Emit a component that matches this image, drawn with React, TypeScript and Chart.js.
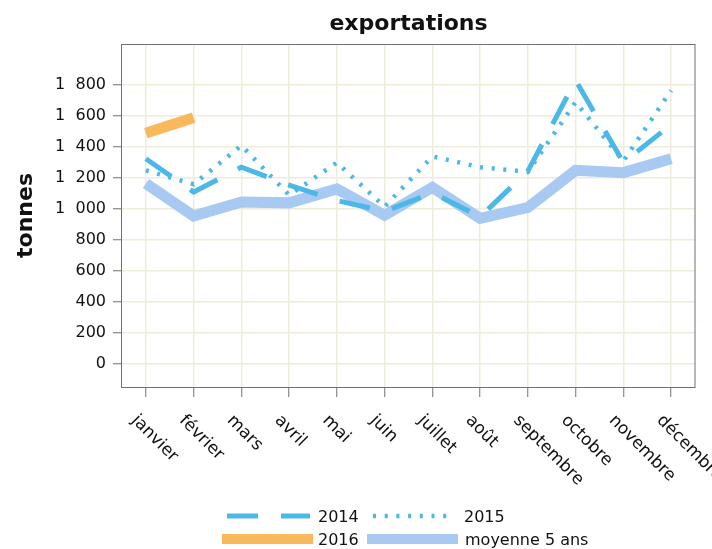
import { useEffect, useRef } from 'react';
import { Chart, registerables } from 'chart.js';

Chart.register(...registerables);

const months = ['janvier', 'février', 'mars', 'avril', 'mai', 'juin', 'juillet', 'août', 'septembre', 'octobre', 'novembre', 'décembre'];
const serie2014 = [1325, 1110, 1270, 1155, 1055, 985, 1105, 950, 1245, 1830, 1300, 1545];
const serie2015 = [1250, 1160, 1410, 1090, 1300, 1015, 1340, 1270, 1240, 1690, 1310, 1765];
const serie2016 = [1490, 1590, null, null, null, null, null, null, null, null, null, null];
const moyenne5ans = [1165, 955, 1045, 1040, 1130, 960, 1140, 940, 1010, 1250, 1235, 1325];
const yTickValues = [0, 200, 400, 600, 800, 1000, 1200, 1400, 1600, 1800];
const seriesLabels = ['2014', '2015', '2016', 'moyenne 5 ans'];
const chartTitle = 'exportations';
const yTitle = 'tonnes';

const BLUE = '#4cb8e8';
const ORANGE = '#f9b85c';
const LIGHT = '#a8c9f2';
const GRID = '#efedda';
const FONT = '"DejaVu Sans", sans-serif';

const fmt = (v: number) => String(v).replace(/\B(?=(\d{3})+(?!\d))/g, '\u2007');

const drawPlugin = {
  id: 'customDraw',
  afterDraw(chart: any) {
    const { ctx, chartArea } = chart;
    const { left, right, top, bottom } = chartArea;
    ctx.save();
    // plot border
    ctx.strokeStyle = '#707070';
    ctx.lineWidth = 1;
    ctx.setLineDash([]);
    ctx.strokeRect(Math.round(left) - 0.5, Math.round(top) + 0.5, Math.round(right - left) + 0.5, Math.round(bottom - top));
    ctx.fillStyle = '#111';
    // title
    ctx.font = `bold 22px ${FONT}`;
    ctx.textAlign = 'center';
    ctx.textBaseline = 'alphabetic';
    ctx.fillText(chartTitle, (left + right) / 2, 30);
    // y title
    ctx.save();
    ctx.translate(32, (top + bottom) / 2);
    ctx.rotate(-Math.PI / 2);
    ctx.font = `bold 22px ${FONT}`;
    ctx.fillText(yTitle, 0, 0);
    ctx.restore();
    // x labels
    const xs = chart.scales.x;
    ctx.font = `17px ${FONT}`;
    ctx.textAlign = 'left';
    months.forEach((m, i) => {
      const x = xs.getPixelForValue(i);
      ctx.save();
      ctx.translate(x - 15, 421);
      ctx.rotate(Math.PI / 4);
      ctx.fillText(m, 0, 0);
      ctx.restore();
    });
    // legend
    const items = [
      { x0: 227, x1: 310, y: 516, tx: 318, color: BLUE, w: 5, dash: [31, 23], label: seriesLabels[0] },
      { x0: 373, x1: 450, y: 516, tx: 464, color: BLUE, w: 4.5, dash: [3, 8.7], label: seriesLabels[1] },
      { x0: 222, x1: 313, y: 539, tx: 318, color: ORANGE, w: 10, dash: [], label: seriesLabels[2] },
      { x0: 367, x1: 458, y: 539, tx: 465, color: LIGHT, w: 10, dash: [], label: seriesLabels[3] },
    ];
    items.forEach((it) => {
      ctx.beginPath();
      ctx.strokeStyle = it.color;
      ctx.lineWidth = it.w;
      ctx.lineCap = 'butt';
      ctx.setLineDash(it.dash);
      ctx.moveTo(it.x0, it.y);
      ctx.lineTo(it.x1, it.y);
      ctx.stroke();
      ctx.setLineDash([]);
      ctx.fillStyle = '#111';
      ctx.font = `16px ${FONT}`;
      ctx.textAlign = 'left';
      ctx.textBaseline = 'alphabetic';
      ctx.fillText(it.label, it.tx, it.y + 6);
    });
    ctx.restore();
  },
};

export default function App() {
  const ref = useRef<HTMLCanvasElement>(null);
  useEffect(() => {
    document.body.style.margin = '0';
    const canvas = ref.current;
    if (!canvas) return;
    const chart = new Chart(canvas, {
      type: 'line',
      data: {
        labels: months,
        datasets: [
          { label: seriesLabels[0], data: serie2014, borderColor: BLUE, borderWidth: 5, borderDash: [31, 23], pointRadius: 0, tension: 0, borderCapStyle: 'butt', fill: false },
          { label: seriesLabels[1], data: serie2015, borderColor: BLUE, borderWidth: 4.5, borderDash: [3, 8.7], pointRadius: 0, tension: 0, borderCapStyle: 'butt', fill: false },
          { label: seriesLabels[2], data: serie2016, borderColor: ORANGE, borderWidth: 11, pointRadius: 0, tension: 0, borderCapStyle: 'butt', fill: false },
          { label: seriesLabels[3], data: moyenne5ans, borderColor: LIGHT, borderWidth: 11, pointRadius: 0, tension: 0, borderCapStyle: 'butt', borderJoinStyle: 'miter', fill: false },
        ],
      },
      options: {
        responsive: false,
        animation: false,
        devicePixelRatio: 1,
        layout: { padding: { top: 44, right: 17, left: 0, bottom: 0 } },
        plugins: { legend: { display: false }, title: { display: false }, tooltip: { enabled: false } },
        scales: {
          x: {
            type: 'category',
            offset: true,
            border: { display: false },
            grid: { color: GRID, lineWidth: 1.5, tickColor: '#707070', tickLength: 10, drawTicks: true, tickWidth: 1 },
            ticks: { display: false },
            afterFit: (s: any) => { s.height = 162; },
          },
          y: {
            type: 'linear',
            min: -148,
            max: 2065,
            border: { display: false },
            grid: { color: GRID, lineWidth: 1.5, tickColor: '#707070', tickLength: 9, drawTicks: true, tickWidth: 1 },
            afterBuildTicks: (s: any) => { s.ticks = yTickValues.map((v) => ({ value: v })); },
            afterFit: (s: any) => { s.width = 122; },
            ticks: {
              color: '#111',
              font: { family: FONT, size: 16 },
              padding: 7,
              callback: (v: any) => fmt(Number(v)),
            },
          },
        },
      },
      plugins: [drawPlugin],
    } as any);
    return () => chart.destroy();
  }, []);
  return <canvas ref={ref} width={712} height={549} style={{ display: 'block', width: 712, height: 549 }} />;
}
